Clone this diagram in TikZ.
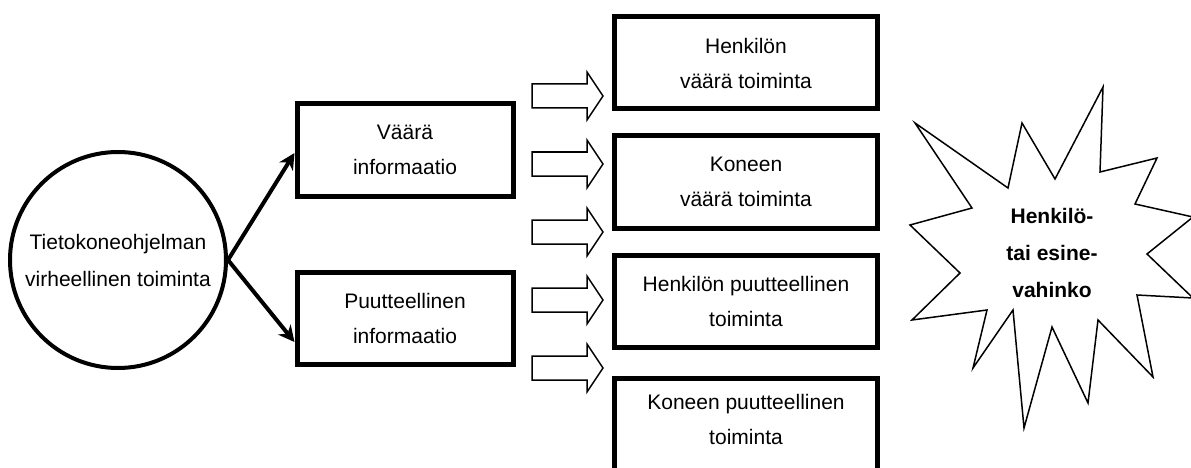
\documentclass[tikz,border=0pt]{standalone}
\usepackage{fontspec}
\setmainfont{Liberation Sans}
\usetikzlibrary{arrows.meta}
\newcommand{\vx}{405}
\newcommand{\ox}{746}
\tikzstyle{laatikko}=[draw, line width=5pt, minimum height=92pt, align=center, font=\fontsize{21}{35}\selectfont]
\tikzstyle{nuoli}=[line width=4pt, -{Stealth[length=16pt,width=16pt,inset=5pt]}]
\tikzstyle{ontto}=[line width=1.5pt, line join=miter]

\begin{document}
\begin{tikzpicture}[x=1pt,y=-1pt]

\useasboundingbox (0,0) rectangle (1191,468);

  \node[draw, circle, line width=4pt, minimum size=216pt, inner sep=0pt, align=center,
        font=\fontsize{21}{37}\selectfont] (syy) at (118,260) {Tietokoneohjelman\\virheellinen toiminta};

  \node[laatikko, minimum width=216pt] (vi) at (\vx,150) {Väärä\\informaatio};
  \node[laatikko, minimum width=216pt] (pi) at (\vx,318) {Puutteellinen\\informaatio};

  \draw[nuoli] (syy.east) -- ([yshift=-3pt]vi.west);
  \draw[nuoli] (syy.east) -- ([yshift=-24pt]pi.west);

% ontot nuolet
\foreach \y in {96,164,232,300,368}
  \draw[ontto] (532,\y-12) -- (587,\y-12) -- (587,\y-24) -- (603,\y)
    -- (587,\y+24) -- (587,\y+12) -- (532,\y+12) -- cycle;

  \node[laatikko, minimum width=263pt] (hv) at (\ox,63) {Henkilön\\väärä toiminta};
  \node[laatikko, minimum width=263pt] (kv) at (\ox,182) {Koneen\\väärä toiminta};
  \node[laatikko, minimum width=263pt] (hp) at (\ox,301) {Henkilön puutteellinen\\toiminta};
  \node[laatikko, minimum width=263pt, minimum height=160pt, anchor=north] (kp) at (\ox,375.5) {};
  \node[font=\fontsize{21}{35}\selectfont, align=center] (kpt) at (\ox,419) {Koneen puutteellinen\\toiminta};

% tähti
\draw[ontto] (1103,87) -- (1100,172) -- (1157,158) -- (1135,204) -- (1193,217)
  -- (1147,254) -- (1193,298) -- (1137,295) -- (1153,377) -- (1098,320)
  -- (1088,403) -- (1052,327) -- (1024,428) -- (1013,310) -- (973,368)
  -- (987,310) -- (912,320) -- (960,273) -- (910,225) -- (972,208)
  -- (915,123) -- (1008,188) -- (1022,123) -- (1055,179) -- cycle;
  \node[font=\fontsize{21}{37}\selectfont\bfseries, align=center] (vahinko) at (1052,253) {Henkilö-\\tai esine-\\vahinko};

\end{tikzpicture}
\end{document}
